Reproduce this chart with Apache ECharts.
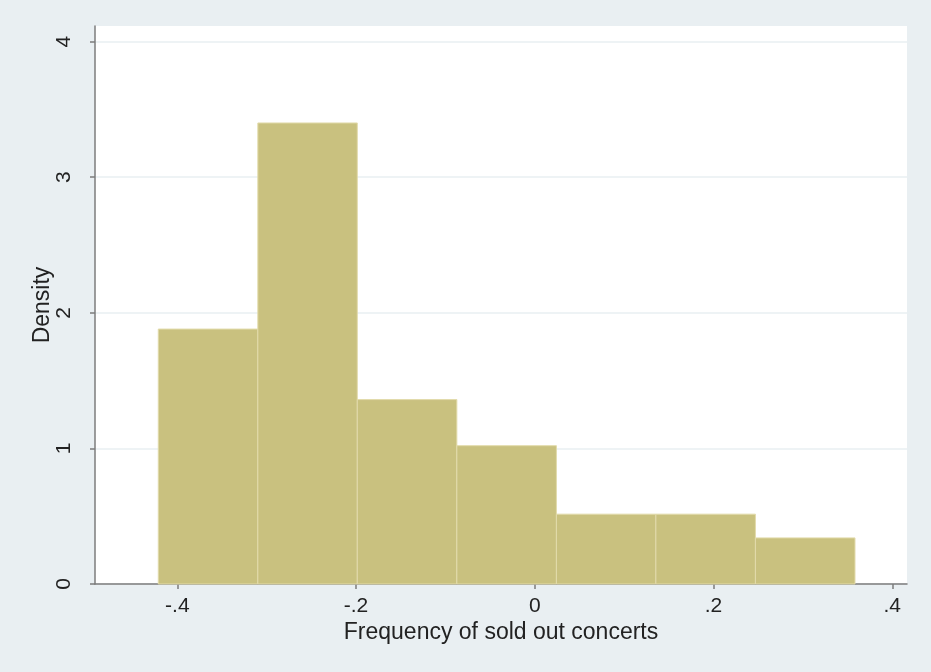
<!DOCTYPE html>
<html>
<head>
<meta charset="utf-8">
<script src="https://cdn.jsdelivr.net/npm/echarts@6/dist/echarts.min.js"></script>
<style>
  html, body { margin: 0; padding: 0; background: #e9eff2; }
  #chart { width: 931px; height: 672px; }
</style>
</head>
<body>
<div id="chart"></div>
<script>
// histogram bins (left/right edges) and their densities
const binEdges = [-0.4213, -0.3099, -0.1986, -0.0872, 0.0242, 0.1355, 0.2469, 0.3583];
const densities = [1.88, 3.40, 1.36, 1.02, 0.515, 0.515, 0.34];
const xTicks = [-0.4, -0.2, 0, 0.2, 0.4];
const yTicks = [0, 1, 2, 3, 4];

const bins = densities.map((d, i) => [binEdges[i], binEdges[i + 1], d]);

// stata style tick labels: -.4, .2, 0
const fmtX = v => {
  if (Math.abs(v) < 1e-9) return '0';
  return (v < 0 ? '-' : '') + String(Math.abs(v).toFixed(1)).replace(/^0/, '');
};

const chart = echarts.init(document.getElementById('chart'));
const font = 'Liberation Sans, Arial, sans-serif';

chart.setOption({
  backgroundColor: '#e9eff2',
  animation: false,
  grid: {
    left: 95, right: 24, top: 26, bottom: 88,
    show: true, backgroundColor: '#ffffff', borderWidth: 0
  },
  xAxis: {
    type: 'value',
    min: -0.4921,
    max: 0.4165,
    name: 'Frequency of sold out concerts',
    nameLocation: 'middle',
    nameGap: 37,
    nameMoveOverlap: false,
    nameTextStyle: { fontFamily: font, fontSize: 23, color: '#222' },
    axisLine: { show: true, onZero: false, lineStyle: { color: '#7c7c7c', width: 1.5 } },
    axisTick: { show: true, length: 5, customValues: xTicks, lineStyle: { color: '#7c7c7c', width: 1.5 } },
    axisLabel: { customValues: xTicks, formatter: fmtX, margin: 12, fontFamily: font, fontSize: 21, color: '#222' },
    splitLine: { show: false }
  },
  yAxis: {
    type: 'value',
    min: 0,
    max: 4.115,
    name: 'Density',
    nameLocation: 'middle',
    nameGap: 41,
    nameRotate: 90,
    nameMoveOverlap: false,
    nameTextStyle: { fontFamily: font, fontSize: 23, color: '#222' },
    axisLine: { show: true, onZero: false, lineStyle: { color: '#7c7c7c', width: 1.5 } },
    axisTick: { show: true, length: 5, customValues: yTicks, lineStyle: { color: '#7c7c7c', width: 1.5 } },
    axisLabel: { customValues: yTicks, rotate: 90, margin: 20, fontFamily: font, fontSize: 21, color: '#222' },
    splitLine: { show: true, lineStyle: { color: '#e9eff2', width: 1.5 } }
  },
  series: [{
    type: 'custom',
    data: bins,
    encode: { x: [0, 1], y: 2 },
    renderItem: (params, api) => {
      const p0 = api.coord([api.value(0), 0]);
      const p1 = api.coord([api.value(1), api.value(2)]);
      return {
        type: 'rect',
        shape: { x: p0[0], y: p1[1], width: p1[0] - p0[0], height: p0[1] - p1[1] },
        style: { fill: '#c9c17f', stroke: '#e2dbab', lineWidth: 1 }
      };
    }
  }]
});
</script>
</body>
</html>
